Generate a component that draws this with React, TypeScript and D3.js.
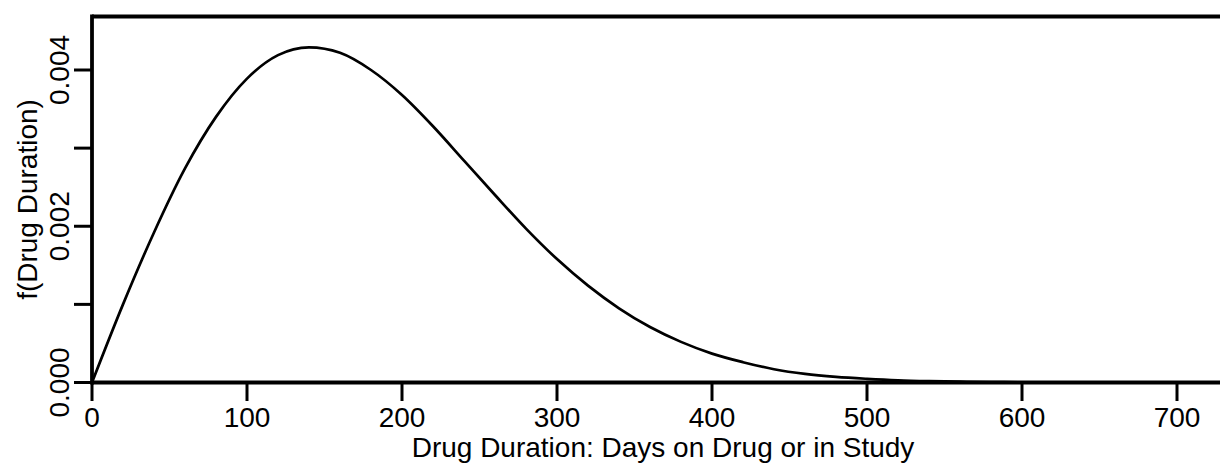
import React from "react";
import * as d3 from "d3";

// curve: days on drug vs density (x 1e-3)
const days = [
  0, 20, 40, 60, 80, 100, 120, 140, 160, 180, 200, 220, 240, 260, 280, 300, 320,
  340, 360, 380, 400, 420, 440, 460, 480, 500, 520, 540, 560, 580, 600, 640, 680,
  728,
];
const densityE3 = [
  0, 1.0, 1.92, 2.74, 3.4, 3.89, 4.19, 4.29, 4.22, 4.0, 3.68, 3.28, 2.84, 2.4,
  1.97, 1.58, 1.24, 0.95, 0.71, 0.52, 0.37, 0.26, 0.17, 0.11, 0.072, 0.047,
  0.028, 0.017, 0.01, 0.006, 0.003, 0.001, 0.0003, 0,
];

const xTicks = [0, 100, 200, 300, 400, 500, 600, 700];
const yTicks = [0, 0.001, 0.002, 0.003, 0.004];
const yTickLabels = ["0.000", "", "0.002", "", "0.004"];

const width = 1220;
const height = 464;
const left = 92;
const top = 16.5;
const bottom = 382.5;
const font = "'Liberation Sans', Arial, sans-serif";
const fs = 28;

export default function App() {
  const x = d3.scaleLinear().domain([0, 700]).range([left, left + 1085]);
  const y = d3.scaleLinear().domain([0, 0.004]).range([bottom, 70]);

  const points = days.map((d, i) => [d, densityE3[i] / 1000] as [number, number]);
  const line = d3
    .line<[number, number]>()
    .x((d) => x(d[0]))
    .y((d) => y(d[1]))
    .curve(d3.curveMonotoneX);

  return (
    <svg
      width={width}
      height={height}
      style={{ position: "absolute", left: 0, top: 0, background: "#fff" }}
    >
      <defs>
        <clipPath id="plot">
          <rect x={left} y={top} width={width - left} height={bottom - top} />
        </clipPath>
      </defs>

      <path
        d={line(points) || ""}
        fill="none"
        stroke="#000"
        strokeWidth={2.7}
        clipPath="url(#plot)"
      />

      {/* frame: top, left, bottom */}
      <line x1={left} x2={width} y1={top} y2={top} stroke="#000" strokeWidth={3.8} />
      <line x1={left} x2={left} y1={top - 1.9} y2={bottom + 1.9} stroke="#000" strokeWidth={3.8} />
      <line x1={left} x2={width} y1={bottom} y2={bottom} stroke="#000" strokeWidth={3.8} />

      {/* y ticks */}
      {yTicks.map((t, i) => (
        <g key={"y" + i}>
          <line x1={74} x2={left} y1={y(t)} y2={y(t)} stroke="#000" strokeWidth={3} />
          {yTickLabels[i] && (
            <text
              transform={`translate(69,${y(t)}) rotate(-90)`}
              textAnchor="middle"
              fontFamily={font}
              fontSize={fs}
            >
              {yTickLabels[i]}
            </text>
          )}
        </g>
      ))}

      {/* x ticks */}
      {xTicks.map((t) => (
        <g key={"x" + t}>
          <line x1={x(t)} x2={x(t)} y1={bottom} y2={401} stroke="#000" strokeWidth={3} />
          <text x={x(t)} y={427} textAnchor="middle" fontFamily={font} fontSize={fs}>
            {t}
          </text>
        </g>
      ))}

      <text x={663} y={457} textAnchor="middle" fontFamily={font} fontSize={fs}>
        Drug Duration: Days on Drug or in Study
      </text>
      <text
        transform={`translate(37,${(top + bottom) / 2}) rotate(-90)`}
        textAnchor="middle"
        fontFamily={font}
        fontSize={fs}
      >
        f(Drug Duration)
      </text>
    </svg>
  );
}
